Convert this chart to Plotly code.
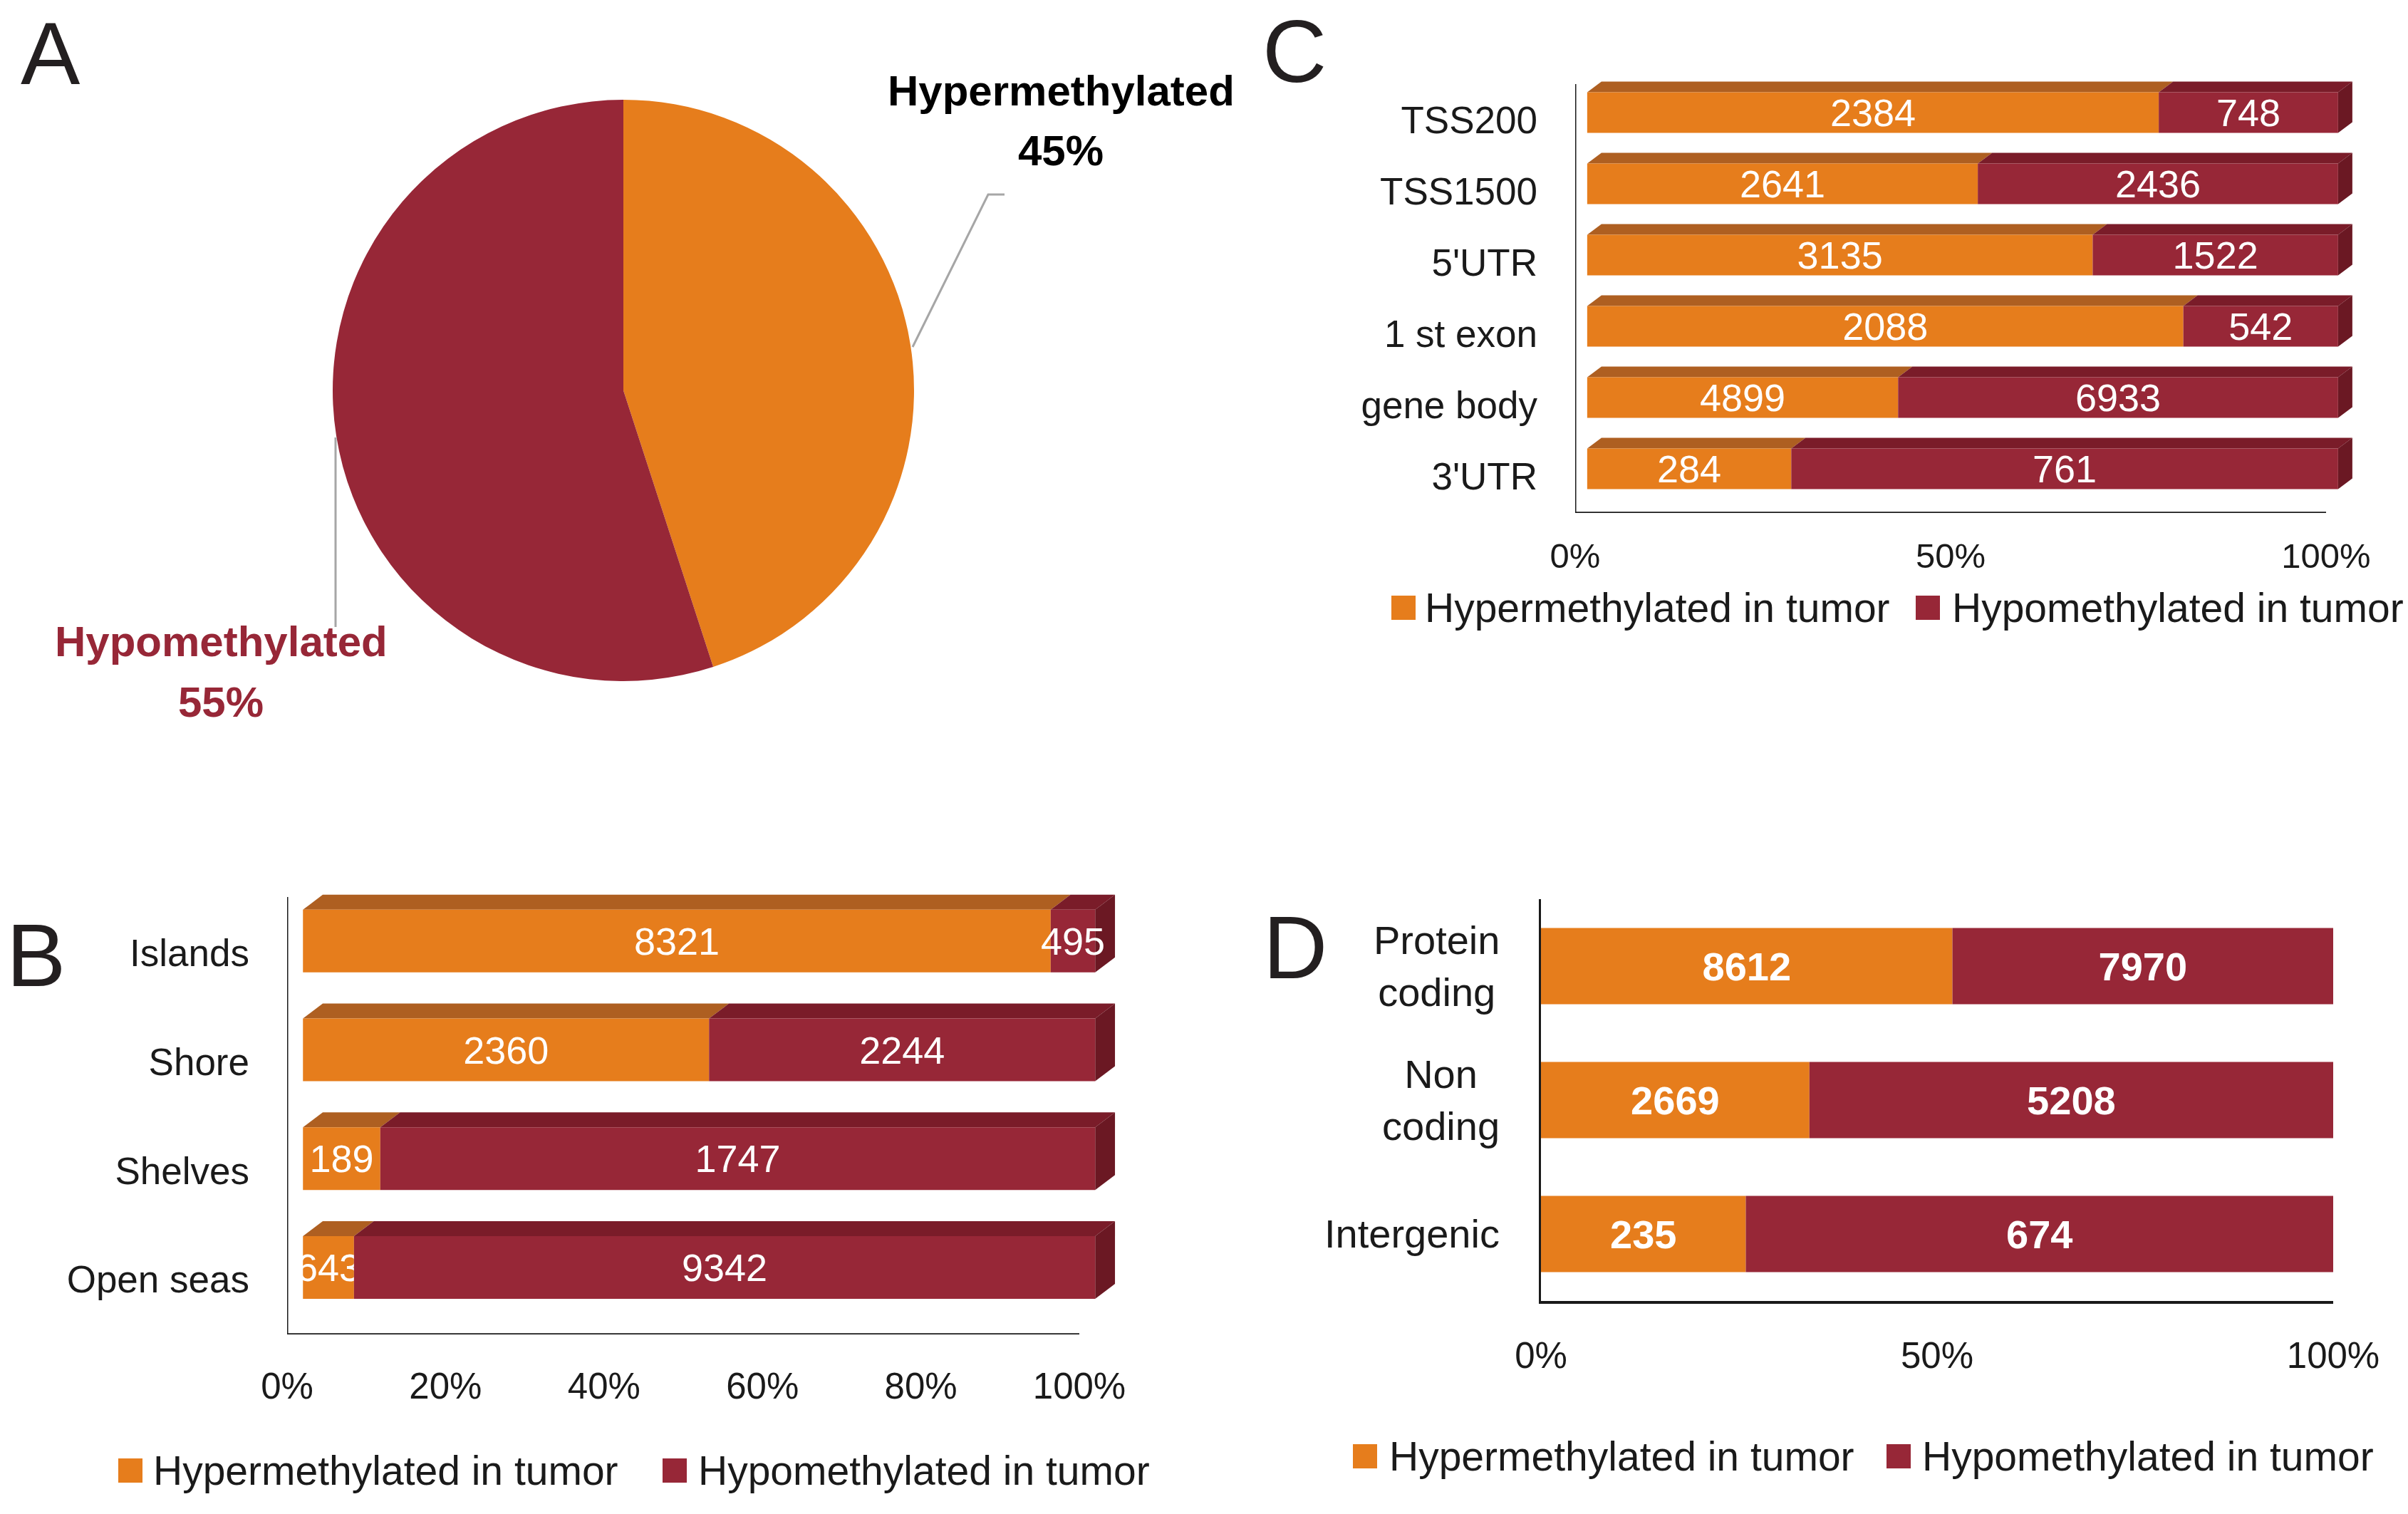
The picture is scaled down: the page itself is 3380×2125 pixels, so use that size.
import plotly.graph_objects as go

W, H = 3380, 2125

# ---------------- data ----------------
HYPER_NAME = "Hypermethylated in tumor"
HYPO_NAME = "Hypomethylated in tumor"

PIE_LABELS = ["Hypermethylated", "Hypomethylated"]
PIE_VALUES = [45, 55]

B_CATS = ["Islands", "Shore", "Shelves", "Open seas"]
B_HYPER = [8321, 2360, 189, 643]
B_HYPO = [495, 2244, 1747, 9342]

C_CATS = ["TSS200", "TSS1500", "5'UTR", "1 st exon", "gene body", "3'UTR"]
C_HYPER = [2384, 2641, 3135, 2088, 4899, 284]
C_HYPO = [748, 2436, 1522, 542, 6933, 761]

D_CATS = ["Protein<br>coding", "Non<br>coding", "Intergenic"]
D_HYPER = [8612, 2669, 235]
D_HYPO = [7970, 5208, 674]

B_XTICKS = [0, 20, 40, 60, 80, 100]
CD_XTICKS = [0, 50, 100]

# ---------------- style ----------------
FONT = "Liberation Sans, Arial, sans-serif"
ORANGE = "#E67D1C"
RED = "#972737"
ORANGE_TOP = "#AE5F21"
RED_TOP = "#7A1C29"
RED_SIDE = "#6B1823"
BLACK = "#1A1A1A"


def px(x):
    return x / W


def py(y):
    return 1 - y / H


fig = go.Figure()
shapes = []
annotations = []

# ---------------- Panel A: pie ----------------
fig.add_trace(go.Pie(
    labels=PIE_LABELS, values=PIE_VALUES, sort=False, direction="clockwise",
    rotation=0, marker=dict(colors=[ORANGE, RED], line=dict(width=0)),
    textinfo="none", hoverinfo="skip", showlegend=False, automargin=False,
    domain=dict(x=[px(875 - 408), px(875 + 408)], y=[py(548 + 408), py(548 - 408)]),
))
pie_ann = [
    dict(text="<b>%s</b>" % PIE_LABELS[0], x=px(1489), y=py(127), font=dict(size=60, color="black")),
    dict(text="<b>%d%%</b>" % PIE_VALUES[0], x=px(1489), y=py(211), font=dict(size=60, color="black")),
    dict(text="<b>%s</b>" % PIE_LABELS[1], x=px(310), y=py(901), font=dict(size=60, color=RED)),
    dict(text="<b>%d%%</b>" % PIE_VALUES[1], x=px(310), y=py(985), font=dict(size=60, color=RED)),
]
for a in pie_ann:
    a.update(xref="paper", yref="paper", showarrow=False, xanchor="center", yanchor="middle")
    a["font"]["family"] = FONT
annotations += pie_ann
shapes.append(dict(type="path", xref="paper", yref="paper",
                   path="M %f,%f L %f,%f L %f,%f" % (px(1281), py(487), px(1387), py(273), px(1410), py(273)),
                   line=dict(color="#A6A6A6", width=3)))
shapes.append(dict(type="line", xref="paper", yref="paper",
                   x0=px(471), y0=py(614), x1=px(471), y1=py(880),
                   line=dict(color="#A6A6A6", width=3)))


def add_bar_panel(cats, hyper, hypo, xa, ya, shift, width, depth, tfont):
    n = len(cats)
    pos = [n - 1 - i for i in range(n)]
    p_hyper = [h / (h + o) * 100 for h, o in zip(hyper, hypo)]
    p_hypo = [100 - p for p in p_hyper]
    common = dict(orientation="h", y=pos, width=width, textposition="inside",
                  insidetextanchor="middle", constraintext="none", textangle=0,
                  textfont=tfont, xaxis=xa, yaxis=ya, hoverinfo="skip",
                  showlegend=False, cliponaxis=False)
    fig.add_trace(go.Bar(x=p_hyper, base=[shift] * n, marker=dict(color=ORANGE, line=dict(width=0)),
                         text=[str(v) for v in hyper], name=HYPER_NAME, **common))
    fig.add_trace(go.Bar(x=p_hypo, base=[shift + p for p in p_hyper],
                         marker=dict(color=RED, line=dict(width=0)),
                         text=[str(v) for v in hypo], name=HYPO_NAME, **common))
    if depth:
        dx, dy = depth
        for yv, ph in zip(pos, p_hyper):
            yt = yv + width / 2
            yb = yv - width / 2
            x0, x1, x2 = shift, shift + ph, shift + 100
            for a0, a1, col in [(x0, x1, ORANGE_TOP), (x1, x2, RED_TOP)]:
                shapes.append(dict(type="path", xref=xa, yref=ya, layer="below",
                                   path="M %f,%f L %f,%f L %f,%f L %f,%f Z" % (
                                       a0, yt, a1, yt, a1 + dx, yt + dy, a0 + dx, yt + dy),
                                   fillcolor=col, line=dict(width=0)))
            shapes.append(dict(type="path", xref=xa, yref=ya, layer="below",
                               path="M %f,%f L %f,%f L %f,%f L %f,%f Z" % (
                                   x2, yt, x2 + dx, yt + dy, x2 + dx, yb + dy, x2, yb),
                               fillcolor=RED_SIDE, line=dict(width=0)))
    return pos


tf_reg = dict(family=FONT, size=54, color="white")
tf_bold = dict(family=FONT, size=56, color="white", weight="bold")

# Panel B
posB = add_bar_panel(B_CATS, B_HYPER, B_HYPO, "x", "y", 2.0, 0.576, (2.5, 0.1375), tf_reg)
# Panel C
posC = add_bar_panel(C_CATS, C_HYPER, C_HYPO, "x2", "y2", 1.6, 0.57, (1.9, 0.15), tf_reg)
# Panel D
posD = add_bar_panel(D_CATS, D_HYPER, D_HYPO, "x3", "y3", 0.0, 0.57, None, tf_bold)

# axis lines for 3D panels
for xa, ya, ybot, ytop in [("x", "y", -0.616, 3.405), ("x2", "y2", -0.62, 5.40)]:
    shapes.append(dict(type="line", xref=xa, yref=ya, x0=0, x1=100, y0=ybot, y1=ybot,
                       line=dict(color=BLACK, width=3.5)))
    shapes.append(dict(type="line", xref=xa, yref=ya, x0=0, x1=0, y0=ybot, y1=ytop,
                       line=dict(color=BLACK, width=3)))

# D category labels (centered multi-line)
for cat, yv in zip(D_CATS, posD):
    annotations.append(dict(text=cat, xref="paper", yref="y3", x=px(2107), y=yv,
                            xanchor="right", yanchor="middle", align="center", showarrow=False,
                            font=dict(family=FONT, size=56, color=BLACK)))

# panel letters
for letter, x, y in [("A", 71, 75), ("B", 50, 1340), ("C", 1817, 71), ("D", 1818, 1329)]:
    annotations.append(dict(text=letter, xref="paper", yref="paper", x=px(x), y=py(y),
                            xanchor="center", yanchor="middle", showarrow=False,
                            font=dict(family=FONT, size=125, color="#231F20")))


# legends
def add_legend(sq1, t1, sq2, t2, yc, size=34):
    for sx, tx, col, name in [(sq1, t1, ORANGE, HYPER_NAME), (sq2, t2, RED, HYPO_NAME)]:
        shapes.append(dict(type="rect", xref="paper", yref="paper",
                           x0=px(sx), x1=px(sx + size), y0=py(yc + size / 2), y1=py(yc - size / 2),
                           fillcolor=col, line=dict(width=0)))
        annotations.append(dict(text=name, xref="paper", yref="paper", x=px(tx), y=py(yc),
                                xanchor="left", yanchor="middle", showarrow=False,
                                font=dict(family=FONT, size=57, color=BLACK)))


add_legend(166, 213, 930, 978, 2064)
add_legend(1953, 1998, 2689, 2738, 853)
add_legend(1899, 1948, 2648, 2696, 2044)

axis_font = dict(family=FONT, size=51, color=BLACK)
axis_font_c = dict(family=FONT, size=49, color=BLACK)
cat_font = dict(family=FONT, size=53, color=BLACK)
noauto = dict(automargin=False, showgrid=False, zeroline=False)

fig.update_layout(
    width=W, height=H, margin=dict(l=0, r=0, t=0, b=0, pad=0, autoexpand=False),
    paper_bgcolor="white", plot_bgcolor="rgba(0,0,0,0)",
    barmode="overlay", showlegend=False,
    xaxis=dict(domain=[px(403), px(403 + 105 * 11.12)], range=[0, 105],
               showline=False, tickvals=B_XTICKS,
               ticktext=["%d%%" % v for v in B_XTICKS], tickfont=axis_font,
               ticks="", ticklabelstandoff=38, **noauto),
    yaxis=dict(domain=[py(1873), py(1873 - 4.066 * 152.7)], range=[-0.616, 3.45],
               showline=False,
               tickvals=[p - 0.11 for p in posB], ticktext=B_CATS, tickfont=cat_font,
               ticks="", ticklabelstandoff=52, **noauto),
    xaxis2=dict(domain=[px(2211), px(2211 + 104 * 10.54)], range=[0, 104],
                showline=False, tickvals=CD_XTICKS,
                ticktext=["%d%%" % v for v in CD_XTICKS], tickfont=axis_font_c,
                ticks="", ticklabelstandoff=27, anchor="y2", **noauto),
    yaxis2=dict(domain=[py(720), py(113)], range=[-0.62, 5.45],
                showline=False, tickvals=[p - 0.1 for p in posC],
                ticktext=C_CATS, tickfont=cat_font, ticks="", ticklabelstandoff=52,
                anchor="x2", **noauto),
    xaxis3=dict(domain=[px(2163), px(3275)], range=[0, 100],
                showline=True, linecolor=BLACK, linewidth=4,
                tickvals=CD_XTICKS, ticktext=["%d%%" % v for v in CD_XTICKS],
                tickfont=axis_font, ticks="", ticklabelstandoff=29, anchor="y3", **noauto),
    yaxis3=dict(domain=[py(1826), py(1262)], range=[-0.5, 2.5],
                showline=True, linecolor=BLACK, linewidth=3,
                showticklabels=False, ticks="", anchor="x3", **noauto),
    shapes=shapes,
    annotations=annotations,
)

fig.write_html("out.html", config={"displayModeBar": False},
               post_script="document.body.style.margin='0';document.body.style.overflow='hidden';")
